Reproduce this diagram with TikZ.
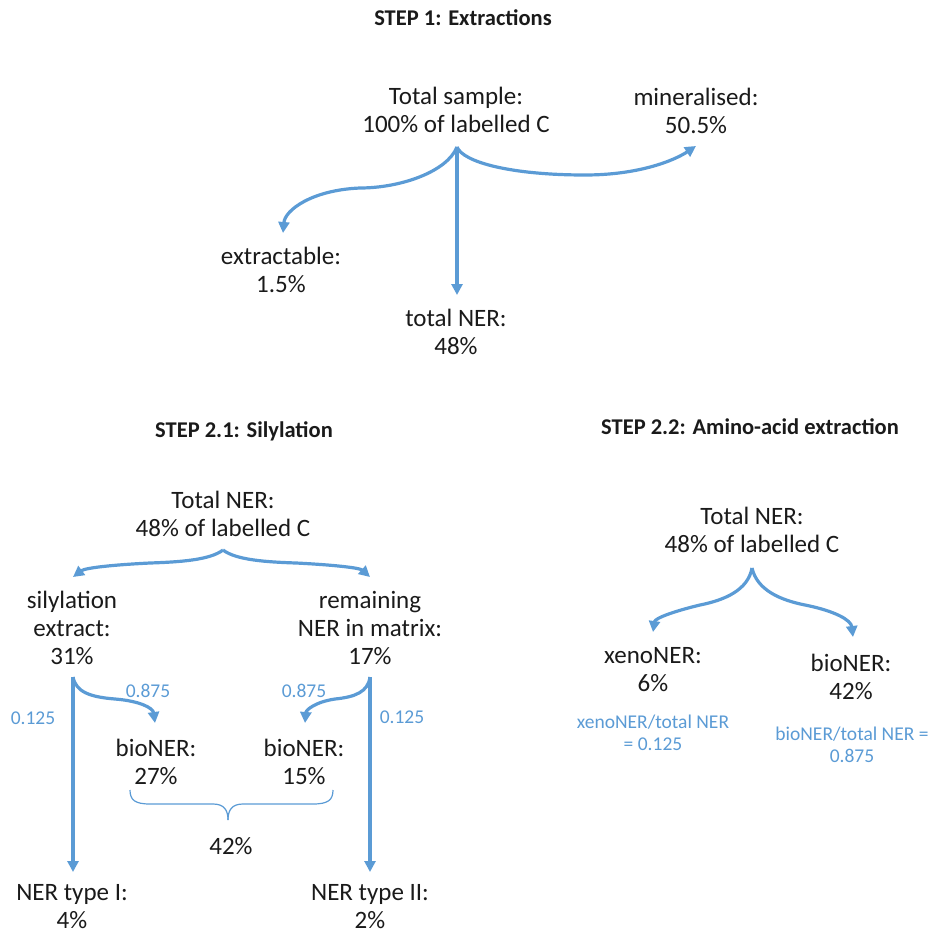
\documentclass[tikz,border=0pt]{standalone}
\usepackage{fontspec}
\setmainfont{Carlito}
\usetikzlibrary{arrows.meta}
\definecolor{ablue}{RGB}{91,155,213}
\definecolor{txt}{RGB}{26,26,26}
\begin{document}
\begin{tikzpicture}[x=1pt,y=-1pt,
  lbl/.style={align=center, font=\fontsize{25}{28}\selectfont, text=txt, inner sep=0pt},
  ttl/.style={font=\fontsize{22.5}{26}\selectfont\bfseries, text=txt, inner sep=0pt},
  frac/.style={align=center, font=\fontsize{19.5}{22.5}\selectfont, text=ablue, inner sep=0pt},
  flow/.style={draw=ablue, line width=3.2pt, -{Triangle[length=11pt,width=11pt]}},
  brc/.style={draw=ablue, line width=1.2pt}]
\useasboundingbox (0,0) rectangle (931,934);
% titles
\node[ttl] (t1) at (463,18) {STEP 1: Extractions};
\node[ttl] (t21) at (244,431) {STEP 2.1: Silylation};
\node[ttl] (t22) at (750,427) {STEP 2.2: Amino-acid extraction};
% step 1
\node[lbl] (tsample) at (456,110) {Total sample:\\100\% of labelled C};
\node[lbl] (miner) at (696,111) {mineralised:\\50.5\%};
\node[lbl] (extr) at (281,270) {extractable:\\1.5\%};
\node[lbl] (tner) at (456,332) {total NER:\\48\%};
\coordinate (c1) at (457,147);
\coordinate (c1m) at (696,146);
\coordinate (c1e) at (283,233);
\coordinate (c1t) at (457,295);
\draw[flow] (c1) -- (c1t);
\draw[flow] (c1) .. controls (463,162) and (510,175) .. (585,175) .. controls (640,175) and (675,160) .. (c1m);
\draw[flow] (c1) .. controls (447,172) and (400,188) .. (360,188) .. controls (312,190) and (285,210) .. (c1e);
% step 2.1
\node[lbl] (ner21) at (223,514) {Total NER:\\48\% of labelled C};
\node[lbl] (sil) at (72,628) {silylation\\extract:\\31\%};
\node[lbl] (rem) at (370,628) {remaining\\NER in matrix:\\17\%};
\node[lbl] (bio27) at (156,762) {bioNER:\\27\%};
\node[lbl] (bio15) at (304,762) {bioNER:\\15\%};
\node[lbl] (p42) at (231,846) {42\%};
\node[lbl] (nt1) at (72,907) {NER type I:\\4\%};
\node[lbl] (nt2) at (370,907) {NER type II:\\2\%};
\node[frac] (l875a) at (148,691) {0.875};
\node[frac] (l125a) at (33,718) {0.125};
\node[frac] (l875b) at (304,691) {0.875};
\node[frac] (l125b) at (402,717) {0.125};
\coordinate (c2) at (223,550);
\coordinate (c2l) at (73,577);
\coordinate (c2r) at (370,577);
\draw[flow] (c2) .. controls (210,560) and (180,562) .. (150,563) .. controls (110,565) and (85,568) .. (c2l);
\draw[flow] (c2) .. controls (236,560) and (266,562) .. (296,563) .. controls (336,565) and (360,568) .. (c2r);
\coordinate (c3) at (73,677);
\coordinate (c3d) at (73,872);
\coordinate (c3b) at (155,723);
\draw[flow] (c3) -- (c3d);
\draw[flow] (c3) .. controls (76,692) and (90,697) .. (115,699) .. controls (140,701) and (153,708) .. (c3b);
\coordinate (c4) at (370,677);
\coordinate (c4d) at (370,872);
\coordinate (c4b) at (305,723);
\draw[flow] (c4) -- (c4d);
\draw[flow] (c4) .. controls (368,692) and (355,697) .. (335,699) .. controls (315,702) and (306,710) .. (c4b);
% brace
\coordinate (bl) at (130,790);
\coordinate (bm) at (228,820);
\coordinate (br) at (333,790);
\draw[brc] (bl) .. controls (130,800) and (135,804) .. (150,804) -- (213,804) .. controls (224,804) and (228,810) .. (bm);
\draw[brc] (bm) .. controls (228,810) and (232,804) .. (243,804) -- (313,804) .. controls (328,804) and (333,800) .. (br);
% step 2.2
\node[lbl] (ner22) at (752,530) {Total NER:\\48\% of labelled C};
\node[lbl] (xeno) at (653,670) {xenoNER:\\6\%};
\node[lbl] (bio42) at (851,677) {bioNER:\\42\%};
\node[frac] (xr) at (653,733) {xenoNER/total NER\\= 0.125};
\node[frac] (bro) at (852,745) {bioNER/total NER =\\0.875};
\coordinate (c5) at (752,568);
\coordinate (c5l) at (653,632);
\coordinate (c5r) at (853,637);
\draw[flow] (c5) .. controls (748,590) and (725,600) .. (700,605) .. controls (675,611) and (655,618) .. (c5l);
\draw[flow] (c5) .. controls (757,590) and (780,600) .. (805,605) .. controls (835,611) and (851,620) .. (c5r);
\end{tikzpicture}
\end{document}
